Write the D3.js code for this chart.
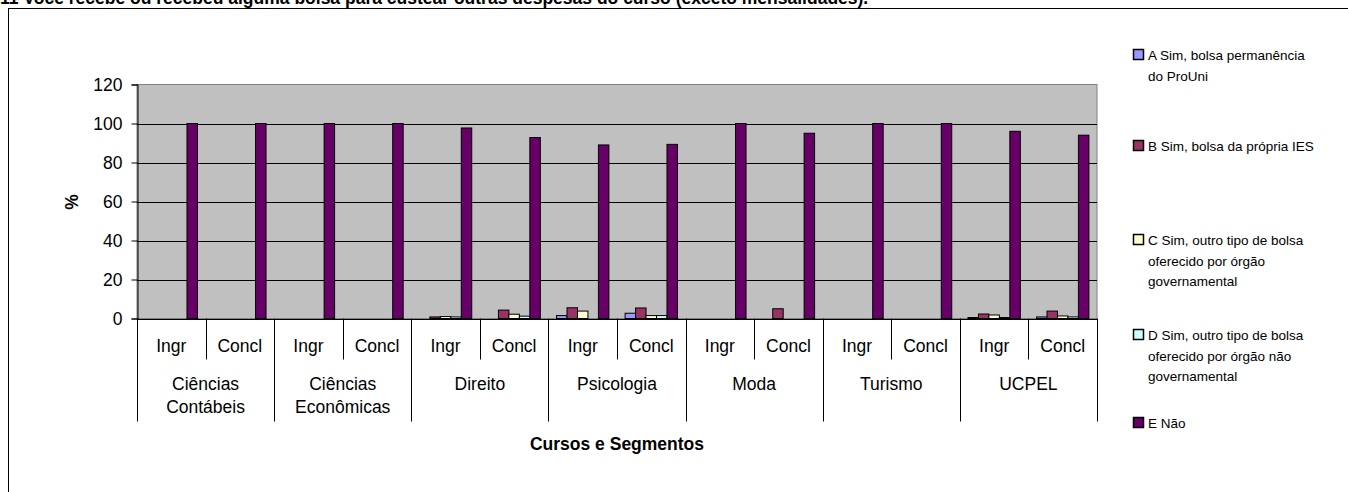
<!DOCTYPE html>
<html>
<head>
<meta charset="utf-8">
<script src="https://cdn.jsdelivr.net/npm/d3@7"></script>
<style>
  html, body { margin: 0; padding: 0; background: #fff; }
  svg { display: block; font-family: "Liberation Sans", Arial, sans-serif; }
</style>
</head>
<body>
<svg id="chart" width="1348" height="492"></svg>
<script>
// ---------- data ----------
const titleText = "11 Você recebe ou recebeu alguma bolsa para custear outras despesas do curso (exceto mensalidades).";
const courses = ["Ciências\nContábeis", "Ciências\nEconômicas", "Direito", "Psicologia", "Moda", "Turismo", "UCPEL"];
const segments = ["Ingr", "Concl"];
const seriesNames = [
  "A Sim, bolsa permanência\ndo ProUni",
  "B Sim, bolsa da própria IES",
  "C Sim, outro tipo de bolsa\noferecido por órgão\ngovernamental",
  "D Sim, outro tipo de bolsa\noferecido por órgão não\ngovernamental",
  "E Não"
];
const seriesColors = ["#9999FF", "#993366", "#FFFFCC", "#CCFFFF", "#660066"];
// values per segment (course x segment order)
const serieA = [0, 0, 0, 0, 0, 0, 1.5, 2.7, 0, 0, 0, 0, 0.5, 0.8];
const serieB = [0, 0, 0, 0, 0.8, 4.3, 5.5, 5.4, 0, 5.0, 0, 0, 2.3, 3.8];
const serieC = [0, 0, 0, 0, 1.0, 2.2, 3.8, 1.5, 0, 0, 0, 0, 1.8, 1.3];
const serieD = [0, 0, 0, 0, 0.8, 1.2, 0, 1.5, 0, 0, 0, 0, 0.5, 0.8];
const serieE = [100, 100, 100, 100, 97.7, 92.8, 89, 89.3, 100, 95, 100, 100, 96, 94];
const yTicks = [0, 20, 40, 60, 80, 100, 120];
const yTitle = "%";
const xTitle = "Cursos e Segmentos";

// ---------- layout ----------
const svg = d3.select("#chart");
const plot = { left: 137, top: 84.5, width: 960, height: 234 };
const axisFont = 17.5;
const catKeys = [];
courses.forEach((c, i) => segments.forEach(s => catKeys.push(i + "|" + s)));
const series = [serieA, serieB, serieC, serieD, serieE];

// outer frame
svg.append("rect").attr("x", 8.5).attr("y", 8.5).attr("width", 1400).attr("height", 600)
  .attr("fill", "none").attr("stroke", "#000").attr("stroke-width", 1);

// title
svg.append("text").attr("x", 0).attr("y", 4)
  .attr("font-size", 17.5).attr("font-weight", "bold").attr("fill", "#000")
  .text(titleText);

const x = d3.scaleBand().domain(catKeys).range([plot.left, plot.left + plot.width]).paddingInner(0).paddingOuter(0);
const xs = d3.scaleBand().domain(d3.range(5)).range([0, x.bandwidth()]).paddingInner(0).paddingOuter(0.775);
const y = d3.scaleLinear().domain([0, 120]).range([plot.top + plot.height, plot.top]);

const g = svg.append("g");
// plot background
g.append("rect").attr("x", plot.left).attr("y", plot.top).attr("width", plot.width).attr("height", plot.height)
  .attr("fill", "#C0C0C0").attr("stroke", "#808080").attr("stroke-width", 1);

// gridlines
g.selectAll("line.grid").data(yTicks.filter(t => t > 0 && t < 120)).join("line")
  .attr("x1", plot.left).attr("x2", plot.left + plot.width)
  .attr("y1", d => Math.round(y(d)) + 0.5).attr("y2", d => Math.round(y(d)) + 0.5)
  .attr("stroke", "#000").attr("stroke-width", 1);

// bars
series.forEach((vals, si) => {
  g.selectAll("rect.s" + si).data(vals).join("rect")
    .attr("x", (d, i) => x(catKeys[i]) + xs(si))
    .attr("width", xs.bandwidth())
    .attr("y", d => y(d))
    .attr("height", d => y(0) - y(d))
    .attr("fill", seriesColors[si])
    .attr("stroke", "#000").attr("stroke-width", d => d > 0 ? 1 : 0);
});

// y axis
const yAxis = d3.axisLeft(y).tickValues(yTicks).tickSize(6).tickPadding(9);
const ya = svg.append("g").attr("transform", `translate(${plot.left + 0.5},0)`).call(yAxis);
ya.select(".domain").attr("stroke", "#000");
ya.selectAll(".tick line").attr("stroke", "#000");
ya.selectAll(".tick text").attr("font-size", axisFont).attr("fill", "#000")
  .attr("font-family", "Liberation Sans, Arial, sans-serif");

// x axis baseline
svg.append("line").attr("x1", plot.left).attr("x2", plot.left + plot.width)
  .attr("y1", Math.round(y(0)) + 0.5).attr("y2", Math.round(y(0)) + 0.5)
  .attr("stroke", "#000").attr("stroke-width", 1);

// category separators
const axisY = y(0);
const sep = svg.append("g").attr("stroke", "#000").attr("stroke-width", 1);
catKeys.forEach((k, i) => {
  const xx = Math.round(x(k)) + 0.5;
  const isCourseStart = i % 2 === 0;
  sep.append("line").attr("x1", xx).attr("x2", xx).attr("y1", axisY).attr("y2", isCourseStart ? 421.5 : 359.5);
});
sep.append("line").attr("x1", plot.left + plot.width + 0.5).attr("x2", plot.left + plot.width + 0.5)
  .attr("y1", axisY).attr("y2", 421.5);

// segment labels
svg.append("g").selectAll("text").data(catKeys).join("text")
  .attr("x", k => x(k) + x.bandwidth() / 2)
  .attr("y", 351.5)
  .attr("text-anchor", "middle").attr("font-size", axisFont).attr("fill", "#000")
  .text(k => k.split("|")[1]);

// course labels
courses.forEach((c, i) => {
  const cx = x(i + "|" + segments[0]) + x.bandwidth();
  const t = svg.append("text").attr("text-anchor", "middle").attr("font-size", axisFont).attr("fill", "#000");
  c.split("\n").forEach((line, li) => {
    t.append("tspan").attr("x", cx).attr("y", 389.5 + li * 23).text(line);
  });
});

// axis titles
svg.append("text").attr("x", plot.left + plot.width / 2).attr("y", 449.5)
  .attr("text-anchor", "middle").attr("font-size", axisFont).attr("font-weight", "bold").text(xTitle);
svg.append("text").attr("transform", "translate(78,202) rotate(-90)")
  .attr("text-anchor", "middle").attr("font-size", axisFont).attr("font-weight", "bold").text(yTitle);

// legend
const legendTops = [55, 146, 240, 335, 423];
const lg = svg.append("g");
seriesNames.forEach((name, i) => {
  const cy = legendTops[i];
  lg.append("rect").attr("x", 1133.5).attr("y", cy - 5.5).attr("width", 10).attr("height", 10)
    .attr("fill", seriesColors[i]).attr("stroke", "#000").attr("stroke-width", 1.5);
  const t = lg.append("text").attr("font-size", 13.5).attr("fill", "#000");
  name.split("\n").forEach((line, li) => {
    t.append("tspan").attr("x", 1148).attr("y", cy + 5 + li * 20.5).text(line);
  });
});
</script>
</body>
</html>
